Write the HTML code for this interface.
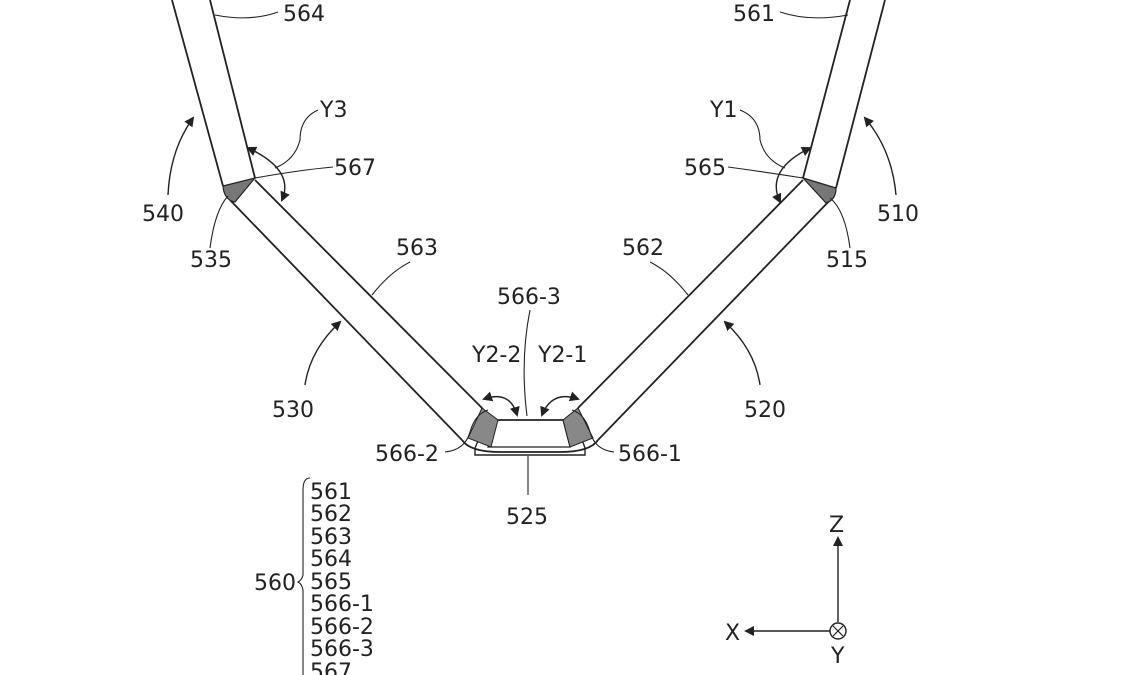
<!DOCTYPE html>
<html><head><meta charset="utf-8"><style>
html,body{margin:0;padding:0;background:#fff;}
svg{display:block;}
text{font-family:"DejaVu Sans","Liberation Sans",sans-serif;font-size:22px;fill:#222;}
</style></head><body>
<svg width="1131" height="675" viewBox="0 0 1131 675" xmlns="http://www.w3.org/2000/svg">
<defs><marker id="a" markerWidth="10" markerHeight="10" refX="8" refY="5" orient="auto-start-reverse" markerUnits="userSpaceOnUse"><path d="M0,0 L10,5 L0,10 z" fill="#222"/></marker></defs>
<g stroke="#222" stroke-width="1.8" fill="none">
<line x1="172" y1="0" x2="223" y2="186"/>
<line x1="210" y1="0" x2="255" y2="178"/>
<line x1="255" y1="180" x2="482" y2="408"/>
<line x1="230" y1="200" x2="462" y2="440"/>
<path d="M223,186 L255,178 L235,202 Q224,200 223,186z" fill="#777" stroke-width="1.2"/>
<line x1="885" y1="0" x2="836" y2="188"/>
<line x1="850" y1="0" x2="803" y2="178"/>
<line x1="803" y1="180" x2="578" y2="408"/>
<line x1="834" y1="196" x2="598" y2="440"/>
<path d="M803,178 L836,188 Q836,200 826,203z" fill="#777" stroke-width="1.2"/>
<path d="M482,408 Q490,420 498,420 L563,420 Q572,420 578,408"/>
<path d="M462,440 Q470,452 500,452 L560,452 Q590,452 598,440"/>
<path d="M498,420 L488,447 L570,447 L563,420" stroke-width="1.2"/>
<path d="M487,420 L475,448 L475,455 L585,455 L585,448 L575,420" stroke-width="1.4"/>
<path d="M482,408 L498,420 L491,447 L468,438z" fill="#888" stroke-width="1"/>
<path d="M578,408 L563,420 L570,447 L593,438z" fill="#888" stroke-width="1"/>
<path d="M248,148 Q295,170 282,200" marker-start="url(#a)" marker-end="url(#a)" stroke-width="1.4"/>
<path d="M810,148 Q765,170 780,202" marker-start="url(#a)" marker-end="url(#a)" stroke-width="1.4"/>
<path d="M484,399 Q510,390 517,415" marker-start="url(#a)" marker-end="url(#a)" stroke-width="1.4"/>
<path d="M578,399 Q552,390 542,415" marker-start="url(#a)" marker-end="url(#a)" stroke-width="1.4"/>
<path d="M168,195 Q170,150 193,118" marker-end="url(#a)" stroke-width="1.4"/>
<path d="M896,195 Q892,150 865,118" marker-end="url(#a)" stroke-width="1.4"/>
<path d="M305,385 Q310,350 340,322" marker-end="url(#a)" stroke-width="1.4"/>
<path d="M760,385 Q755,350 725,322" marker-end="url(#a)" stroke-width="1.4"/>
<g stroke-width="1.1">
<path d="M278,12 Q250,22 215,15"/>
<path d="M780,12 Q810,22 848,15"/>
<path d="M318,110 Q300,118 300,140 Q295,160 275,168"/>
<path d="M333,167 Q300,170 255,178"/>
<path d="M740,110 Q760,118 760,140 Q765,160 785,168"/>
<path d="M728,167 Q765,172 803,178"/>
<path d="M210,248 Q215,210 228,196"/>
<path d="M850,248 Q845,210 830,198"/>
<path d="M410,262 Q390,272 372,295"/>
<path d="M650,262 Q670,272 688,295"/>
<path d="M530,310 Q520,360 527,416"/>
<path d="M445,452 Q465,450 470,432 Q475,414 488,410"/>
<path d="M614,452 Q595,450 590,432 Q585,414 572,410"/>
<path d="M528,456 L528,495"/>
<path d="M310,478 Q303,478 303,490 L303,575 Q302,580 298,582 Q302,584 303,590 L303,675"/>
</g>
<line x1="838" y1="538" x2="838" y2="622" marker-start="url(#a)" stroke-width="1.4"/>
<line x1="830" y1="631" x2="746" y2="631" marker-end="url(#a)" stroke-width="1.4"/>
<circle cx="838" cy="631" r="8" stroke-width="1.4"/>
<line x1="833" y1="626" x2="843" y2="636" stroke-width="1.2"/>
<line x1="843" y1="626" x2="833" y2="636" stroke-width="1.2"/>
</g>
<text x="283" y="21">564</text>
<text x="733" y="21">561</text>
<text x="320" y="117">Y3</text>
<text x="710" y="117">Y1</text>
<text x="334" y="175">567</text>
<text x="684" y="175">565</text>
<text x="142" y="221">540</text>
<text x="877" y="221">510</text>
<text x="190" y="267">535</text>
<text x="826" y="267">515</text>
<text x="396" y="255">563</text>
<text x="622" y="255">562</text>
<text x="497" y="304">566-3</text>
<text x="472" y="362">Y2-2</text>
<text x="538" y="362">Y2-1</text>
<text x="272" y="417">530</text>
<text x="744" y="417">520</text>
<text x="375" y="461">566-2</text>
<text x="618" y="461">566-1</text>
<text x="506" y="524">525</text>
<text x="254" y="590">560</text>
<text x="310" y="499">561</text>
<text x="310" y="521">562</text>
<text x="310" y="544">563</text>
<text x="310" y="566">564</text>
<text x="310" y="589">565</text>
<text x="310" y="611">566-1</text>
<text x="310" y="634">566-2</text>
<text x="310" y="656">566-3</text>
<text x="310" y="679">567</text>
<text x="829" y="532">Z</text>
<text x="725" y="640">X</text>
<text x="831" y="663">Y</text>
</svg>
</body></html>
